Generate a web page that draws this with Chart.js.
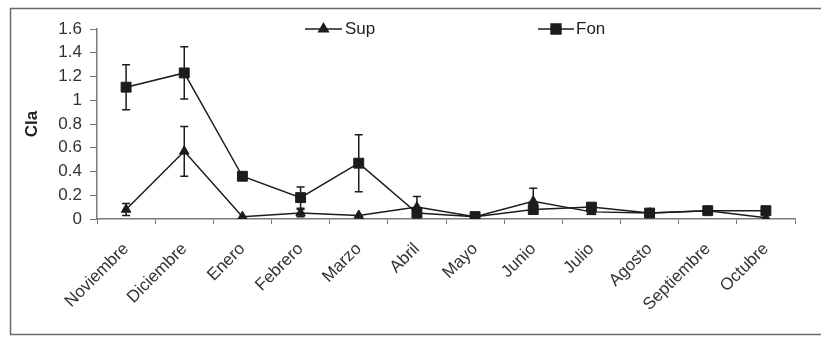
<!DOCTYPE html>
<html><head><meta charset="utf-8">
<script src="https://cdn.jsdelivr.net/npm/chart.js@4/dist/chart.umd.min.js"></script>
<style>html,body{margin:0;padding:0;background:#fff;}#wrap{width:821px;height:339px;position:relative;}</style>
</head><body><div id="wrap"><canvas id="c" width="821" height="339"></canvas></div>
<script>
const months = ['Noviembre','Diciembre','Enero','Febrero','Marzo','Abril','Mayo','Junio','Julio','Agosto','Septiembre','Octubre'];
const supValues = [0.08,0.57,0.02,0.05,0.03,0.10,0.02,0.15,0.06,0.05,0.07,0.01];
const supErrors = [0.05,0.21,0,0.03,0,0.09,0,0.11,0,0,0,0];
const fonValues = [1.11,1.23,0.36,0.18,0.47,0.05,0.02,0.08,0.10,0.05,0.07,0.07];
const fonErrors = [0.19,0.22,0,0.09,0.24,0,0,0,0,0,0,0];
const yTickValues = [0,0.2,0.4,0.6,0.8,1,1.2,1.4,1.6];
const yTickLabels = ['0','0.2','0.4','0.6','0.8','1','1.2','1.4','1.6'];
const seriesNames = ['Sup','Fon'];

const FONT = '"Liberation Sans", Arial, sans-serif';
const INK = '#1c1c1c';

const errorBars = {
  id: 'errorBars',
  afterDatasetsDraw(chart) {
    const ctx = chart.ctx, y = chart.scales.y, x = chart.scales.x;
    const errs = [supErrors, fonErrors];
    ctx.save();
    ctx.strokeStyle = INK; ctx.lineWidth = 1.5;
    chart.data.datasets.forEach((ds, di) => {
      ds.data.forEach((v, i) => {
        const e = errs[di][i];
        if (!e) return;
        const px = x.getPixelForValue(i);
        const top = y.getPixelForValue(v + e), bot = y.getPixelForValue(Math.max(0, v - e));
        ctx.beginPath();
        ctx.moveTo(px, top); ctx.lineTo(px, bot);
        ctx.moveTo(px - 4, top); ctx.lineTo(px + 4, top);
        if (v - e > 0) { ctx.moveTo(px - 4, bot); ctx.lineTo(px + 4, bot); }
        ctx.stroke();
      });
    });
    ctx.restore();
  }
};

const frameAndLegend = {
  id: 'frameAndLegend',
  beforeDraw(chart) {
    const ctx = chart.ctx;
    ctx.save();
    ctx.fillStyle = '#fff'; ctx.fillRect(0, 0, chart.width, chart.height);
    ctx.strokeStyle = '#6a6a6a'; ctx.lineWidth = 1.5;
    ctx.strokeRect(10.5, 8.5, 830, 326);
    ctx.restore();
  },
  afterDraw(chart) {
    const ctx = chart.ctx;
    ctx.save();
    const items = [
      {x0: 305, x1: 342, style: 'triangle', r: 5.5, tx: 345},
      {x0: 538, x1: 574, style: 'rect', r: 7, tx: 576}
    ];
    const ly = 29;
    items.forEach((it, k) => {
      ctx.strokeStyle = INK; ctx.lineWidth = 1.5;
      ctx.beginPath(); ctx.moveTo(it.x0, ly); ctx.lineTo(it.x1, ly); ctx.stroke();
      ctx.fillStyle = INK;
      Chart.helpers.drawPoint(ctx, {pointStyle: it.style, radius: it.r, borderWidth: 1}, (it.x0 + it.x1) / 2, ly);
      ctx.fillStyle = '#222';
      ctx.font = '17px ' + FONT;
      ctx.textBaseline = 'middle'; ctx.textAlign = 'left';
      ctx.fillText(seriesNames[k], it.tx, ly);
    });
    ctx.restore();
  }
};

new Chart(document.getElementById('c'), {
  type: 'line',
  data: {
    labels: months,
    datasets: [
      {label: seriesNames[0], data: supValues, borderColor: INK, backgroundColor: INK, borderWidth: 1.5,
       pointStyle: 'triangle', pointRadius: 5.5, pointBorderWidth: 1, tension: 0},
      {label: seriesNames[1], data: fonValues, borderColor: INK, backgroundColor: INK, borderWidth: 1.5,
       pointStyle: 'rect', pointRadius: 7, pointBorderWidth: 1, tension: 0}
    ]
  },
  options: {
    responsive: false,
    animation: false,
    layout: {padding: {top: 29, right: 26, bottom: 0, left: 22}},
    plugins: {legend: {display: false}, tooltip: {enabled: false}},
    scales: {
      x: {
        offset: true,
        grid: {offset: true, drawOnChartArea: false, drawTicks: true, tickLength: 5, color: '#7a7a7a', lineWidth: 1},
        border: {color: '#7a7a7a', width: 1.5},
        ticks: {maxRotation: 45, minRotation: 45, autoSkip: false, color: '#333', padding: 15,
                font: {family: FONT, size: 17}},
        afterFit(s) { s.height = 120; }
      },
      y: {
        min: 0, max: 1.6,
        afterBuildTicks(s) { s.ticks = yTickValues.map(v => ({value: v})); },
        grid: {drawOnChartArea: false, drawTicks: true, tickLength: 7, color: '#7a7a7a'},
        border: {color: '#7a7a7a', width: 1.5},
        ticks: {color: '#333', padding: 8, font: {family: FONT, size: 17},
                callback: (v, i) => yTickLabels[i]},
        title: {display: true, text: 'Cla', color: '#222', font: {family: FONT, size: 17, weight: 'bold'}, padding: {top: 0, bottom: 0}},
        afterFit(s) { s.width = 75; }
      }
    }
  },
  plugins: [errorBars, frameAndLegend]
});
</script></body></html>
